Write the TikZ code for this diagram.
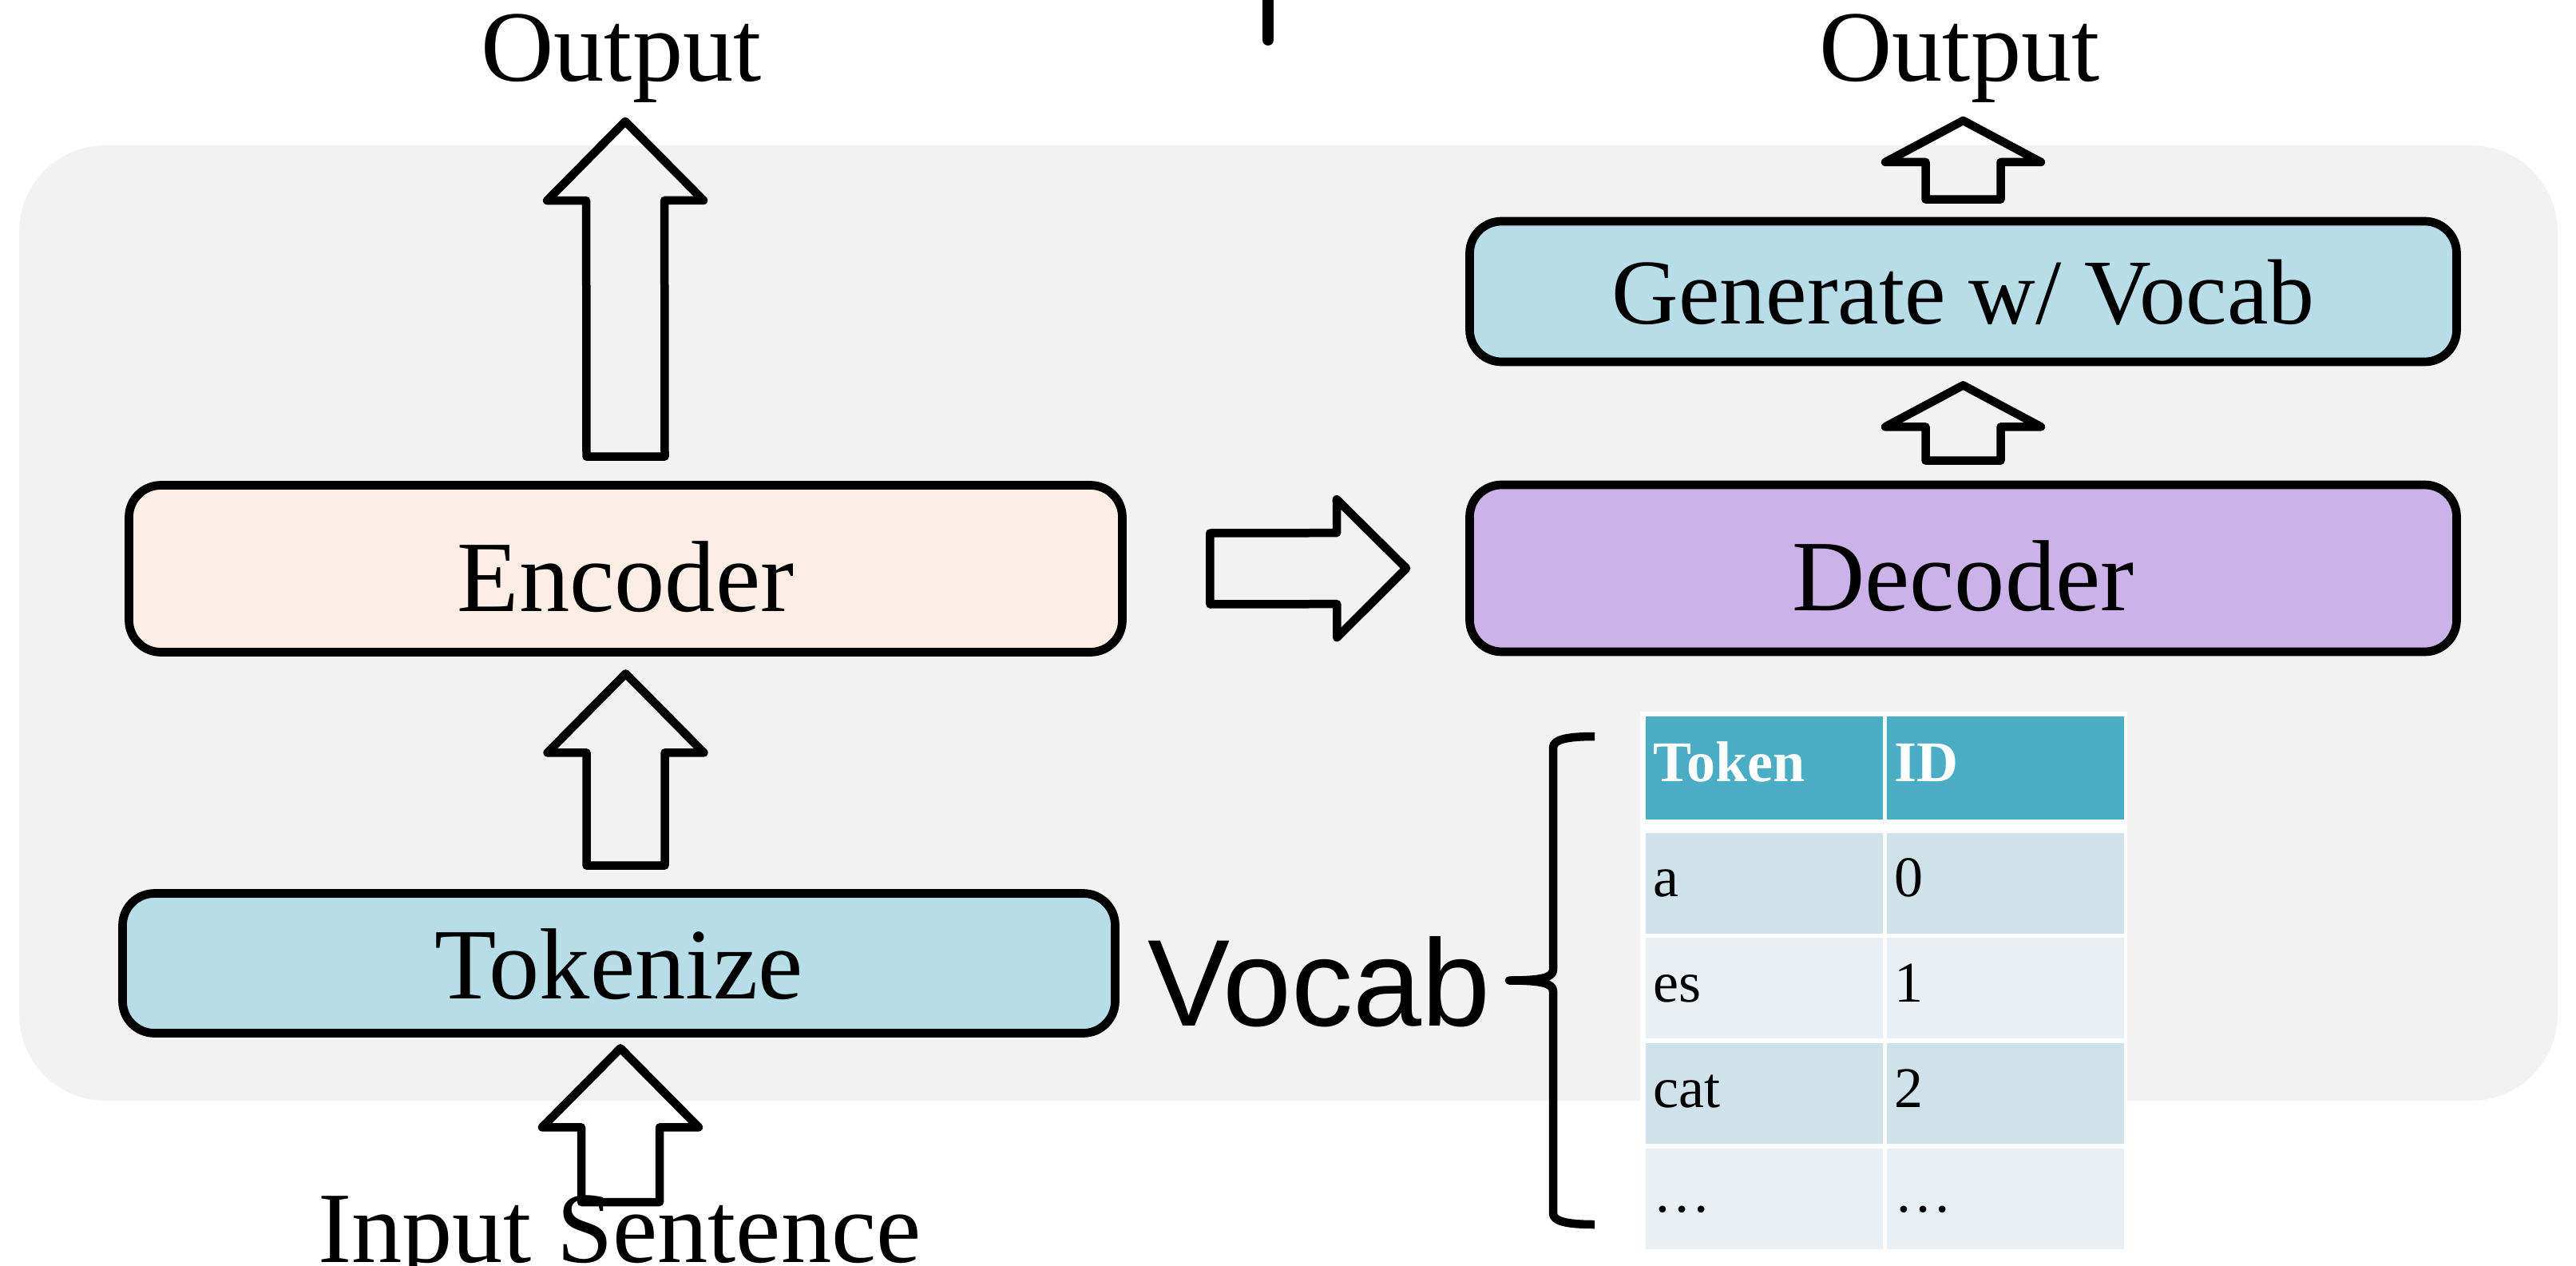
\documentclass[tikz,border=0pt]{standalone}
\usepackage{fontspec}
\setmainfont{Liberation Serif}
\newfontfamily\vocabfont{Liberation Sans}
\usetikzlibrary{calc,positioning}
\definecolor{flowInk}{HTML}{000000}
\definecolor{flowPanel}{HTML}{F2F2F2}
\definecolor{flowBlue}{HTML}{B7DDE8}
\definecolor{flowPeach}{HTML}{FCEEE4}
\definecolor{flowLilac}{HTML}{CBB2E8}
\definecolor{flowHead}{HTML}{4BACC6}
\definecolor{flowBandA}{HTML}{CFE2E9}
\definecolor{flowBandB}{HTML}{E8F0F6}
\tikzset{
  flow/base/.style={draw=flowInk, line width=0.107cm, rounded corners=0.4cm,
    inner sep=0pt, font=\fontsize{36pt}{40pt}\selectfont, text depth=0pt},
  flow/tall/.style={flow/base, minimum height=2.09cm, text height=1.06cm},
  flow/short/.style={flow/base, minimum height=1.75cm, text height=0.88cm},
  flow/encoder/.style={flow/tall, fill=flowPeach, minimum width=12.44cm},
  flow/decoder/.style={flow/tall, fill=flowLilac, minimum width=12.36cm},
  flow/tokenize/.style={flow/short, fill=flowBlue, minimum width=12.43cm},
  flow/generate/.style={flow/short, fill=flowBlue, minimum width=12.36cm,
    minimum height=1.76cm, text height=0.82cm,
    font=\fontsize{33pt}{38pt}\selectfont},
  flow/block/.style={draw=flowInk, line width=0.105cm, line join=round},
  flow/brace/.style={draw=flowInk, line width=0.105cm, line join=round},
  flow/label/.style={font=\fontsize{36pt}{40pt}\selectfont, inner sep=0pt,
    anchor=base},
  % table cells: text sits on a fixed baseline inside each cell
  flow/cell/.style={minimum width=2.97cm, minimum height=1.26cm,
    text width=2.77cm, align=left, inner sep=0pt, text height=0.34cm,
    text depth=0pt, anchor=north west,
    font=\fontsize{20.5pt}{24pt}\selectfont},
  flow/headcell/.style={flow/cell, fill=flowHead, text=white,
    minimum height=1.29cm, font=\fontsize{20.5pt}{24pt}\selectfont\bfseries},
}
% hollow block arrow: tail, tip, shaft half-width, head half-width, head length
\newcommand{\blockarrow}[5]{%
  \coordinate (ba-base) at ($(#2)!#5!(#1)$);
  \draw[flow/block] ($(#1)!#3!90:(#2)$) -- ($(ba-base)!#3!90:(#2)$)
    -- ($(ba-base)!#4!90:(#2)$) -- (#2) -- ($(ba-base)!#4!-90:(#2)$)
    -- ($(ba-base)!#3!-90:(#2)$) -- ($(#1)!#3!-90:(#2)$) -- cycle;}

\begin{document}
\begin{tikzpicture}
\useasboundingbox (0,0) rectangle (32.26,-15.85);

% grey panel behind the pipeline
\fill[flowPanel, rounded corners=1.08cm] (0.24,-1.82) rectangle (32.03,-13.78);

% stroke cut by the top edge
\draw[line width=0.14cm, line cap=round] (15.88,0.1) -- (15.88,-0.50);

% encoder side
\node[flow/encoder] (enc) at (7.835,-7.12) {Encoder};
\node[flow/tokenize] (tok) at (7.75,-12.06) {Tokenize};
\node[flow/label] (outL) at (7.78,-1.02) {Output};
\node[flow/label] (inp) at (7.76,-15.80) {Input Sentence};

% decoder side
\node[flow/decoder] (dec) at (24.585,-7.115) {Decoder};
\node[flow/generate] (gen) at (24.585,-3.65) {Generate w/ Vocab};
\node[flow/label] (outR) at (24.54,-1.02) {Output};

% arrow end points
\coordinate (inTail) at ($(inp.base)+(0.01,0.75)$);
\coordinate (inTip) at ($(tok.south)+(0.02,-0.135)$);
\coordinate (tokTail) at ($(tok.north)+(0.085,0.295)$);
\coordinate (tokTip) at ($(enc.south)+(0,-0.215)$);
\coordinate (encTail) at ($(enc.north)+(0,0.305)$);
\coordinate (encTip) at ($(outL.base)+(0.05,-0.50)$);
\coordinate (midTail) at ($(enc.east)+(1.045,0)$);
\coordinate (midTip) at ($(dec.west)+(-0.74,0)$);
\coordinate (decTail) at ($(dec.north)+(0,0.25)$);
\coordinate (decTip) at ($(gen.south)+(0,-0.24)$);
\coordinate (genTail) at ($(gen.north)+(0,0.22)$);
\coordinate (genTip) at ($(outR.base)+(0.045,-0.49)$);

\blockarrow{inTail}{inTip}{0.49cm}{0.98cm}{0.99cm}
\blockarrow{tokTail}{tokTip}{0.49cm}{0.98cm}{0.99cm}
\blockarrow{encTail}{encTip}{0.49cm}{0.98cm}{0.99cm}
\blockarrow{midTail}{midTip}{0.445cm}{0.865cm}{0.87cm}
\blockarrow{decTail}{decTip}{0.47cm}{0.975cm}{0.52cm}
\blockarrow{genTail}{genTip}{0.47cm}{0.975cm}{0.52cm}

% vocabulary label and brace
\node[font=\vocabfont\fontsize{44pt}{48pt}\selectfont, inner sep=0pt,
  anchor=base] (vocab) at (16.52,-12.84) {Vocab};
\draw[flow/brace] (19.97,-9.22) .. controls (19.62,-9.22) and (19.45,-9.26) .. (19.45,-9.36)
  -- (19.45,-12.14) .. controls (19.45,-12.24) and (19.30,-12.275) .. (18.90,-12.275)
  .. controls (19.30,-12.275) and (19.45,-12.31) .. (19.45,-12.41)
  -- (19.45,-15.19) .. controls (19.45,-15.29) and (19.62,-15.33) .. (19.97,-15.33);

% token table
\fill[white] (20.54,-8.91) rectangle (26.64,-15.68);
\node[flow/headcell] (hTok) at (20.60,-8.96) {Token};
\node[flow/headcell] (hId) at (23.62,-8.96) {ID};
\foreach \tok/\id/\band [count=\r] in {a/0/flowBandA, es/1/flowBandB,
    cat/2/flowBandA, …/…/flowBandB} {
  \pgfmathsetmacro{\y}{-10.42-(\r-1)*1.317}
  \node[flow/cell, fill=\band] (tok\r) at (20.60,\y) {\tok};
  \node[flow/cell, fill=\band] (id\r) at (23.62,\y) {\id};
}
\end{tikzpicture}
\end{document}
